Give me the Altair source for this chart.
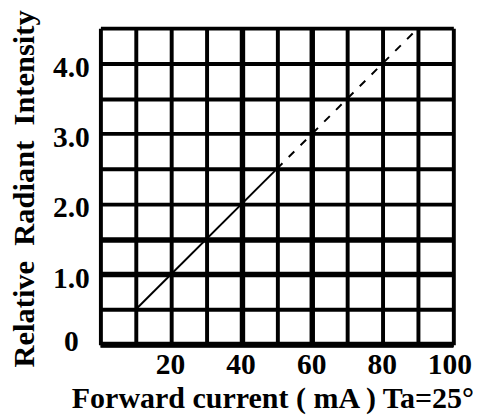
import altair as alt
import pandas as pd

# Measured curve (linear relation)
solid_current = [10, 50]
solid_intensity = [0.5, 2.5]
dashed_current = [50, 90]
dashed_intensity = [2.5, 4.5]

x_grid = [0, 10, 20, 30, 40, 50, 60, 70, 80, 90, 100]
y_grid = [0, 0.5, 1.0, 1.5, 2.0, 2.5, 3.0, 3.5, 4.0, 4.5]

solid_df = pd.DataFrame({"current": solid_current, "intensity": solid_intensity})
dashed_df = pd.DataFrame({"current": dashed_current, "intensity": dashed_intensity})

FONT = "Liberation Serif"

x_scale = alt.Scale(domain=[0, 100], nice=False, zero=False)
y_scale = alt.Scale(domain=[0, 4.5], nice=False, zero=False)

x_axis = alt.Axis(
    values=x_grid,
    tickCount=50,
    labelExpr="(datum.value % 20 == 0 && datum.value > 0) ? datum.label : ''",
    format="d",
    grid=True,
    gridColor="black",
    gridOpacity=1,
    gridWidth={"condition": {"test": "datum.value == 40 || datum.value == 60", "value": 5.5}, "value": 4},
    domain=False,
    ticks=False,
    labelFont=FONT,
    labelFontSize=30,
    labelFontWeight="bold",
    labelColor="black",
    labelPadding=5,
    labelOffset={"condition": {"test": "datum.value == 100", "value": -4}, "value": -1},
    labelFlush=False,
    labelOverlap=False,
    title="Forward current ( mA ) Ta=25°",
    titleFont=FONT,
    titleFontSize=30.5,
    titleFontWeight="bold",
    titleColor="black",
    titleBaseline="alphabetic",
    titleAlign="center",
    titleX=175,
    titleY=64,
)

y_axis = alt.Axis(
    values=y_grid,
    tickCount=50,
    labelExpr="datum.value == 0 ? '0' : (datum.value % 1 == 0 ? format(datum.value, '.1f') : '')",
    grid=True,
    gridColor="black",
    gridOpacity=1,
    gridWidth={"condition": {"test": "datum.value == 1 || datum.value == 1.5", "value": 5.5},
               "value": 4},
    domain=False,
    ticks=False,
    labelFont=FONT,
    labelFontSize=30,
    labelFontWeight="bold",
    labelColor="black",
    labelAlign="center",
    labelPadding=30,
    labelOffset={"condition": {"test": "datum.value == 0", "value": -3}, "value": 4},
    labelFlush=False,
    labelOverlap=False,
    title="Relative\u00a0 Radiant\u00a0 Intensity",
    titleFont=FONT,
    titleFontSize=31,
    titleFontWeight="bold",
    titleColor="black",
    titleBaseline="alphabetic",
    titleAlign="center",
    titleAngle=270,
    titleX=-68,
    titleY=163,
)

solid = alt.Chart(solid_df).mark_line(color="black", strokeWidth=2).encode(
    x=alt.X("current:Q", scale=x_scale, axis=x_axis),
    y=alt.Y("intensity:Q", scale=y_scale, axis=y_axis),
)

dashed = alt.Chart(dashed_df).mark_line(color="black", strokeWidth=2, strokeDash=[8, 9]).encode(
    x=alt.X("current:Q", scale=x_scale),
    y=alt.Y("intensity:Q", scale=y_scale),
)

bottom_border = alt.Chart(pd.DataFrame({"v": [0]})).mark_rule(color="black", strokeWidth=6).encode(
    y=alt.Y("v:Q", scale=y_scale),
)

chart = alt.layer(solid, dashed, bottom_border).properties(
    width=359,
    height=322,
    autosize=alt.AutoSizeParams(type="none"),
    padding={"left": 94, "top": 17, "right": 20, "bottom": 69},
    background="white",
).configure_view(stroke=None)

chart.save("out.html", embed_options={"renderer": "svg", "actions": False})
